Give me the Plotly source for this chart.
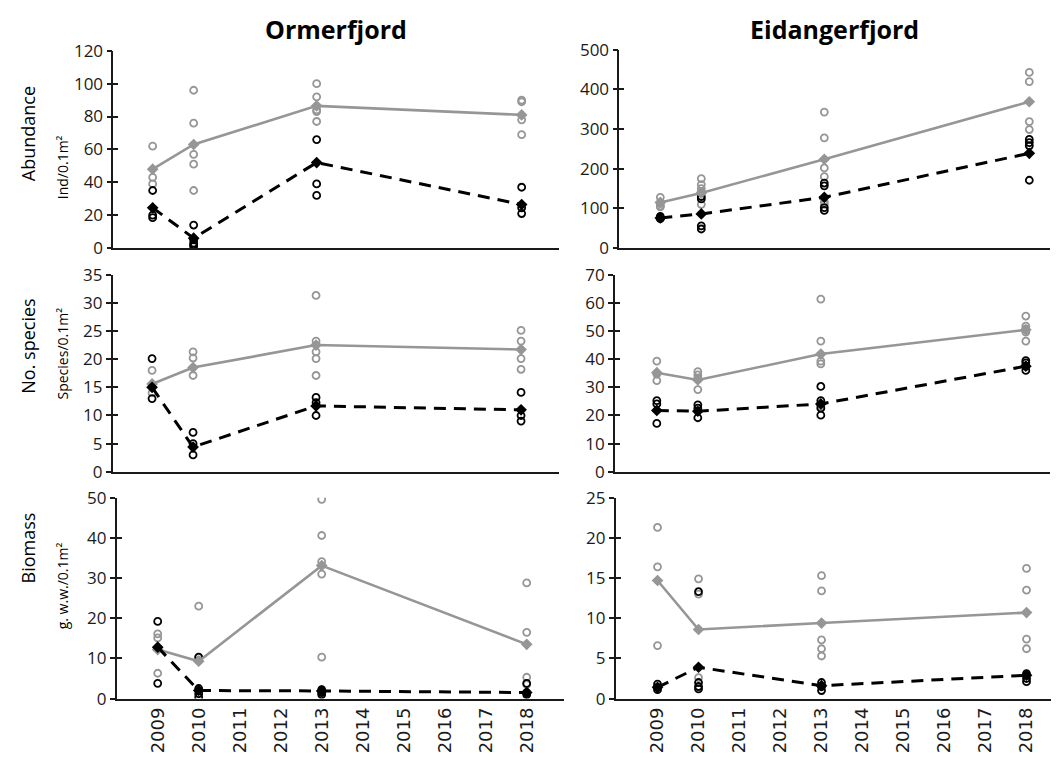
import plotly.graph_objects as go

W, H = 1063, 770

years = [2009, 2010, 2013, 2018]
tick_years = list(range(2009, 2019))

# ---- Ormerfjord ----
orm_abund_gray_reps = [[62, 43, 39], [96, 76, 57, 51, 35], [100, 92, 84, 83, 77], [90, 89, 78, 69]]
orm_abund_gray_mean = [48, 63, 86.5, 81]
orm_abund_black_reps = [[35, 20, 18.5], [14, 5, 3, 2, 1], [66, 39, 32], [37, 24.5, 21]]
orm_abund_black_mean = [24.5, 6, 52, 26.5]

orm_spec_gray_reps = [[18, 14], [21.3, 20.2, 17.1], [31.3, 23.2, 21.3, 20.1, 17.1], [25.1, 23.2, 20.1, 18.2]]
orm_spec_gray_mean = [15.6, 18.5, 22.5, 21.7]
orm_spec_black_reps = [[20.1, 13], [7, 5, 3], [13.2, 12.3, 10], [14.1, 10, 9]]
orm_spec_black_mean = [15, 4.4, 11.7, 11]

orm_bio_gray_reps = [[16.1, 15.1, 6.3], [23, 10.2, 9.5], [49.6, 40.6, 34.1, 31.0, 10.3], [28.8, 16.5, 5.3, 3.5]]
orm_bio_gray_mean = [12.2, 9.3, 33.1, 13.5]
orm_bio_black_reps = [[19.2, 3.8], [10.3, 2.5, 1.2, 0.3], [2.2, 1.5, 1.0], [3.8, 1.5, 1.0]]
orm_bio_black_mean = [12.8, 2.0, 1.9, 1.5]

# ---- Eidangerfjord ----
eid_abund_gray_reps = [[128, 112, 106, 104], [175, 160, 150, 142, 110], [343, 278, 202, 180, 116, 110], [443, 420, 319, 299]]
eid_abund_gray_mean = [115, 139, 224, 369]
eid_abund_black_reps = [[80, 76, 74], [130, 124, 56, 48], [164, 157, 102, 95], [274, 266, 258, 171]]
eid_abund_black_mean = [76, 86, 128, 239]

eid_spec_gray_reps = [[39.3, 34.7, 32.4], [35.6, 34.4, 33.3, 29.2], [61.3, 46.4, 39.3, 38.3, 23.2], [55.3, 51.7, 50.7, 49.6, 46.4]]
eid_spec_gray_mean = [35.2, 32.6, 41.8, 50.4]
eid_spec_black_reps = [[25.3, 24.1, 17.2], [23.8, 22.6, 19.2], [30.3, 25.3, 22.6, 20.1], [39.5, 38.7, 37.5, 36]]
eid_spec_black_mean = [21.8, 21.5, 24.1, 37.5]

eid_bio_gray_reps = [[21.3, 16.4, 6.6], [14.9, 13.0, 2.6], [15.3, 13.4, 7.3, 6.2, 5.3], [16.2, 13.5, 7.4, 6.2]]
eid_bio_gray_mean = [14.7, 8.6, 9.4, 10.7]
eid_bio_black_reps = [[1.8, 1.4, 1.1], [13.3, 2.0, 1.5, 1.2], [2.0, 1.5, 1.0], [3.1, 2.5, 2.1]]
eid_bio_black_mean = [1.4, 3.9, 1.6, 2.9]

titles = ["Ormerfjord", "Eidangerfjord"]
row_titles = ["Abundance", "No. species", "Biomass"]
row_units = ["Ind/0.1m²", "Species/0.1m²", "g. w.w./0.1m²"]

GRAY = "rgb(150,150,150)"
BLACK = "rgb(0,0,0)"
FONT = "Open Sans"

panels = [
    dict(data=(orm_abund_gray_reps, orm_abund_gray_mean, orm_abund_black_reps, orm_abund_black_mean),
         left=113.3, top=40, bottom=243.3, xr=[2008.04, 2018.92], yr=[0, 120], dt=20, bottomrow=False),
    dict(data=(eid_abund_gray_reps, eid_abund_gray_mean, eid_abund_black_reps, eid_abund_black_mean),
         left=619.3, top=39, bottom=243.3, xr=[2008.0, 2018.5], yr=[0, 500], dt=100, bottomrow=False),
    dict(data=(orm_spec_gray_reps, orm_spec_gray_mean, orm_spec_black_reps, orm_spec_black_mean),
         left=112.7, top=270.7, bottom=474, xr=[2008.04, 2018.92], yr=[0, 35], dt=5, bottomrow=False),
    dict(data=(eid_spec_gray_reps, eid_spec_gray_mean, eid_spec_black_reps, eid_spec_black_mean),
         left=615.0, top=270.7, bottom=474, xr=[2007.98, 2018.6], yr=[0, 70], dt=10, bottomrow=False),
    dict(data=(orm_bio_gray_reps, orm_bio_gray_mean, orm_bio_black_reps, orm_bio_black_mean),
         left=116.7, top=500.7, bottom=707.7, xr=[2008.0, 2018.92], yr=[0, 50], dt=10, bottomrow=True),
    dict(data=(eid_bio_gray_reps, eid_bio_gray_mean, eid_bio_black_reps, eid_bio_black_mean),
         left=615.7, top=500.7, bottom=707.7, xr=[2007.98, 2018.6], yr=[0, 25], dt=5, bottomrow=True),
]
PX_PER_YEAR = 41.0


def flat(reps):
    xs, ys = [], []
    for yr, vals in zip(years, reps):
        for v in vals:
            xs.append(yr)
            ys.append(v)
    return xs, ys


fig = go.Figure()
layout = {}
for i, p in enumerate(panels):
    n = i + 1
    xa = "x" if n == 1 else f"x{n}"
    ya = "y" if n == 1 else f"y{n}"
    yo_n = n + 6
    yo = f"y{yo_n}"
    gr, gm, br, bm = p["data"]
    right = p["left"] + (p["xr"][1] - p["xr"][0]) * PX_PER_YEAR
    xdom = [p["left"] / W, min(right / W, 1.0)]
    ydom = [1 - p["bottom"] / H, 1 - p["top"] / H]

    gx, gy = flat(gr)
    bx, by = flat(br)
    fig.add_trace(go.Scatter(x=gx, y=gy, mode="markers", xaxis=xa, yaxis=ya,
                             marker=dict(symbol="circle-open", size=7, color=GRAY, line=dict(width=1.8, color=GRAY)),
                             showlegend=False, hoverinfo="skip"))
    fig.add_trace(go.Scatter(x=bx, y=by, mode="markers", xaxis=xa, yaxis=ya,
                             marker=dict(symbol="circle-open", size=7, color=BLACK, line=dict(width=1.8, color=BLACK)),
                             showlegend=False, hoverinfo="skip"))
    fig.add_trace(go.Scatter(x=years, y=gm, mode="lines+markers", xaxis=xa, yaxis=ya,
                             line=dict(color=GRAY, width=2.6),
                             marker=dict(symbol="diamond", size=9, color=GRAY),
                             showlegend=False, hoverinfo="skip"))
    fig.add_trace(go.Scatter(x=years, y=bm, mode="lines+markers", xaxis=xa, yaxis=ya,
                             line=dict(color=BLACK, width=3, dash="12px,8px"),
                             marker=dict(symbol="diamond", size=9, color=BLACK),
                             showlegend=False, hoverinfo="skip"))
    fig.add_trace(go.Scatter(x=[years[0]], y=[p["yr"][0]], mode="markers", xaxis=xa, yaxis=yo,
                             marker=dict(opacity=0), showlegend=False, hoverinfo="skip"))

    layout["xaxis" if n == 1 else f"xaxis{n}"] = dict(
        domain=xdom, anchor=ya, range=p["xr"], showgrid=False, zeroline=False,
        showline=True, linecolor="#1a1a1a", linewidth=1.6, ticks="",
        tickmode="array", tickvals=tick_years, ticktext=[str(t) for t in tick_years],
        showticklabels=p["bottomrow"], tickangle=-90,
        tickfont=dict(family="DejaVu Sans", size=18, color="#1a1a1a"),
    )
    layout["yaxis" if n == 1 else f"yaxis{n}"] = dict(
        domain=ydom, anchor=xa, range=p["yr"], dtick=p["dt"], tick0=0, showgrid=False, zeroline=False,
        showline=True, linecolor="#1a1a1a", linewidth=1.6, ticks="outside", ticklen=5, tickwidth=1.6,
        tickcolor="#1a1a1a", tickfont=dict(family=FONT, size=17, color="#1a1a1a"),
    )
    layout[f"yaxis{yo_n}"] = dict(
        domain=ydom, anchor=xa, overlaying=ya, side="left", range=p["yr"], dtick=p["dt"], tick0=0,
        showgrid=False, zeroline=False, showline=False, ticks="inside", ticklen=5, tickwidth=1.6,
        tickcolor="#1a1a1a", showticklabels=False,
    )

annotations = []
for j, t in enumerate(titles):
    p = panels[j]
    right = p["left"] + (p["xr"][1] - p["xr"][0]) * PX_PER_YEAR
    cx = (p["left"] + right) / 2
    annotations.append(dict(text=f"<b>{t}</b>", x=cx / W, y=1 - 18 / H, xref="paper", yref="paper",
                            showarrow=False, font=dict(family=FONT, size=25, color="#000"),
                            xanchor="center", yanchor="middle"))
row_title_y = [126, 345, 553]
row_unit_y = [160, 352, 592]
for r in range(3):
    annotations.append(dict(text=row_titles[r], x=28 / W, y=1 - row_title_y[r] / H, xref="paper", yref="paper",
                            showarrow=False, textangle=-90, font=dict(family=FONT, size=18, color="#000"),
                            xanchor="center", yanchor="middle"))
    annotations.append(dict(text=row_units[r], x=62 / W, y=1 - row_unit_y[r] / H, xref="paper", yref="paper",
                            showarrow=False, textangle=-90, font=dict(family=FONT, size=14, color="#000"),
                            xanchor="center", yanchor="middle"))

fig.update_layout(
    width=W, height=H, margin=dict(l=0, r=0, t=0, b=0),
    paper_bgcolor="white", plot_bgcolor="white",
    annotations=annotations, **layout,
)
fig.write_html("out.html")
